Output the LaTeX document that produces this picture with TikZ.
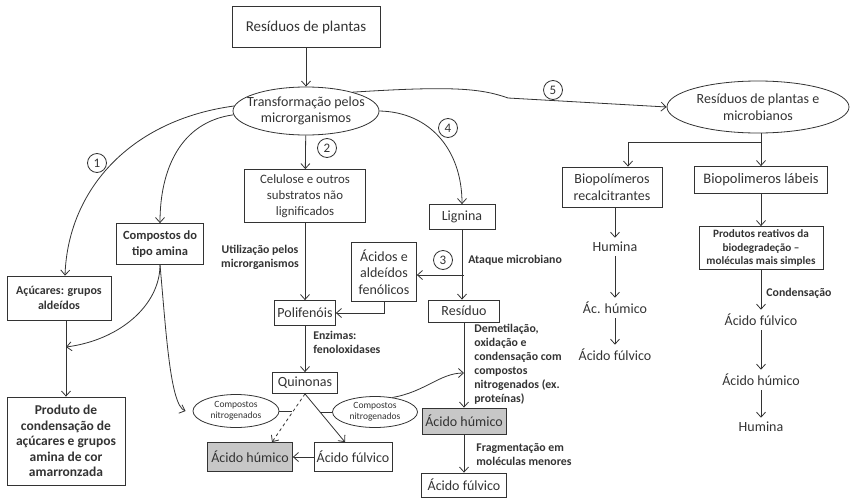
\documentclass[tikz,border=0pt]{standalone}
\usepackage{fontspec}
\setmainfont{Carlito}
\usepackage{tikz}
\usetikzlibrary{positioning,shapes.geometric,arrows.meta}

\newcommand{\fs}[2]{\fontsize{#1}{#2}\selectfont}

\begin{document}
\begin{tikzpicture}[x=1pt,y=-1pt,->,>={Straight Barb[length=5pt,width=9pt]},line width=0.8pt,color=black!80,
  box/.style={rectangle,draw=black!80,align=center,inner sep=1pt,font=\fs{14}{16.5}},
  grey/.style={box,fill=black!22},
  ell/.style={ellipse,draw=black!80,align=center,inner sep=-30pt,font=\fs{14}{16.5}},
  small/.style={ell,font=\fs{9.5}{11}},
  lbl/.style={align=left,inner sep=0pt,font=\bfseries\fs{11.8}{14}},
  txt/.style={inner sep=4pt,font=\fs{14}{16.5}},
  num/.style={circle,draw=black!80,minimum size=19pt,inner sep=0pt,font=\fs{13}{15}}]

    \useasboundingbox (0,0) rectangle (851,498);

    % Left and middle part
	\node [box, font=\fs{15}{17}, minimum width=148pt, minimum height=41pt] at (306,27) (res) {Resíduos de plantas};
	\node [ell, minimum width=146pt, minimum height=48pt] at (306,111) (trans) {Transformação pelos\\microrganismos};
	\node [box, font=\fs{12.8}{16}, minimum width=121pt, minimum height=53pt] at (305,196) (cel) {Celulose e outros\\substratos não\\lignificados};
	\node [box, font=\bfseries\fs{12.5}{16}, minimum width=87pt, minimum height=41pt] at (160,244) (amina) {Compostos do\\tipo amina};
	\node [box, font=\bfseries\fs{12}{15.5}, minimum width=104pt, minimum height=44pt] at (59,298) (acu) {Açúcares: grupos\\aldeídos};
	\node [box, font=\bfseries\fs{13.5}{15.5}, minimum width=118pt, minimum height=88pt] at (66,441) (prod) {Produto de\\condensação de\\açúcares e grupos\\amina de cor\\amarronzada};

	\node [box, minimum width=66pt, minimum height=25pt] at (462,217) (lig) {Lignina};
	\node [box, minimum width=65pt, minimum height=59pt] at (384,272) (acid) {Ácidos e\\aldeídos\\fenólicos};
	\node [box, minimum width=71pt, minimum height=22pt] at (464,311) (resid) {Resíduo};
	\node [box, minimum width=61pt, minimum height=25pt] at (305,313) (poli) {Polifenóis};
	\node [box, minimum width=65pt, minimum height=21pt] at (305,383) (quin) {Quinonas};
	\node [small, minimum width=86pt, minimum height=33pt] at (236,411) (cn1) {Compostos\\nitrogenados};
	\node [small, minimum width=85pt, minimum height=31pt] at (375,412) (cn2) {Compostos\\nitrogenados};
	\node [grey, minimum width=85pt, minimum height=29pt] at (250,457) (hum3) {Ácido húmico};
	\node [box, minimum width=78pt, minimum height=29pt] at (353,457) (ful3) {Ácido fúlvico};
	\node [grey, minimum width=84pt, minimum height=26pt] at (464,421) (hum4) {Ácido húmico};
	\node [box, minimum width=85pt, minimum height=24pt] at (464,485) (ful4) {Ácido fúlvico};

    % Right part
	\node [ell, minimum width=182pt, minimum height=52pt] at (758,107) (ell2) {Resíduos de plantas e\\microbianos};
	\node [box, minimum width=100pt, minimum height=40pt] at (612,187) (recal) {Biopolímeros\\recalcitrantes};
	\node [box, font=\fs{14.5}{17}, minimum width=133pt, minimum height=27pt] at (761,180) (labeis) {Biopolimeros lábeis};
	\node [box, font=\bfseries\fs{11.2}{13.5}, minimum width=124pt, minimum height=43pt] at (761,248) (reat) {Produtos reativos da\\biodegradeção –\\moléculas mais simples};
	\node [txt] at (615,247) (hum1) {Humina};
	\node [txt] at (615,308) (ach1) {Ác. húmico};
	\node [txt] at (615,355) (acf1) {Ácido fúlvico};
	\node [txt] at (761,320) (acf2) {Ácido fúlvico};
	\node [txt] at (761,380) (ach2) {Ácido húmico};
	\node [txt] at (761,427) (hum2) {Humina};

    % Numbers and labels
	\node [num] at (97,163) (n1) {1};
	\node [num] at (327,148) (n2) {2};
	\node [num] at (443,260) (n3) {3};
	\node [num] at (448,128) (n4) {4};
	\node [num] at (553,90) (n5) {5};

	\node [lbl, align=center] at (260,257) (l1) {Utilização pelos\\microrganismos};
	\node [lbl, anchor=west] at (313,342) (l2) {Enzimas:\\fenoloxidases};
	\node [lbl, anchor=west] at (468,260) (l3) {Ataque microbiano};
	\node [lbl, anchor=west] at (474,364) (l4) {Demetilação,\\oxidação e\\condensação com\\compostos\\nitrogenados (ex.\\proteínas)};
	\node [lbl, anchor=west] at (476,455) (l5) {Fragmentação em\\moléculas menores};
	\node [lbl, anchor=west] at (766,293) (l6) {Condensação};

	\coordinate (j1) at (66,347);
	\coordinate (j2) at (464,373);
	\coordinate (br3) at (464,275);
	\coordinate (br5) at (761,142);
	\coordinate (m1) at (292,411);
	\coordinate (m2) at (320,412);

    % Straight edges
	\path[->]
	(res) edge (trans)
	(trans) edge (cel)
	(cel) edge (poli)
	(poli) edge (quin)
	(resid) edge (hum4)
	(hum4) edge (ful4)
	(ful3) edge (hum3)
	(recal.south -| hum1.north) edge (hum1)
	(hum1) edge (ach1)
	(ach1) edge (acf1)
	(labeis) edge (reat)
	(reat) edge (acf2)
	(acf2) edge (ach2)
	(ach2) edge (hum2);

    % Curved and bent edges
	\draw[->] (trans.176) .. controls (130,120) and (68,190) .. ([xshift=6pt]acu.north);
	\draw[->] (trans.183) .. controls (180,122) and (160,170) .. (amina.north);
	\draw[->] (trans.east) .. controls (430,112) and (462,150) .. (lig.north);
	\draw[->] (trans.22) .. controls (450,86) and (480,88) .. (508,98) -- (ell2.west);
	\draw[->] (lig.south) -- (lig.south |- resid.north);
	\draw[->] (br3) -- (br3 -| acid.east);
	\draw[->] (acid.south) |- (poli.east);
	\draw[->] (prod.north |- acu.south) -- (prod.north);
	\draw[->] (amina.south) .. controls (160,305) and (120,340) .. (j1);
	\draw[->] (amina.south) .. controls (166,330) and (170,405) .. ([xshift=-7pt]cn1.west);
	\draw[->,dashed] (quin.south) -- ([xshift=22pt]hum3.north);
	\draw[->] (quin.south) -- ([xshift=-8pt]ful3.north);
	\draw[-] (cn1.east) -- (m1);
	\draw[-] (cn2.west) -- (m2);
	\draw[->] (cn2.40) .. controls (425,392) and (440,373) .. (j2);
	\draw[-] (br5 |- ell2.south) -- (br5);
	\draw[->] (br5) -| ([xshift=16pt]recal.north);
	\draw[->] (br5) -- (labeis.north);

\end{tikzpicture}
\end{document}
